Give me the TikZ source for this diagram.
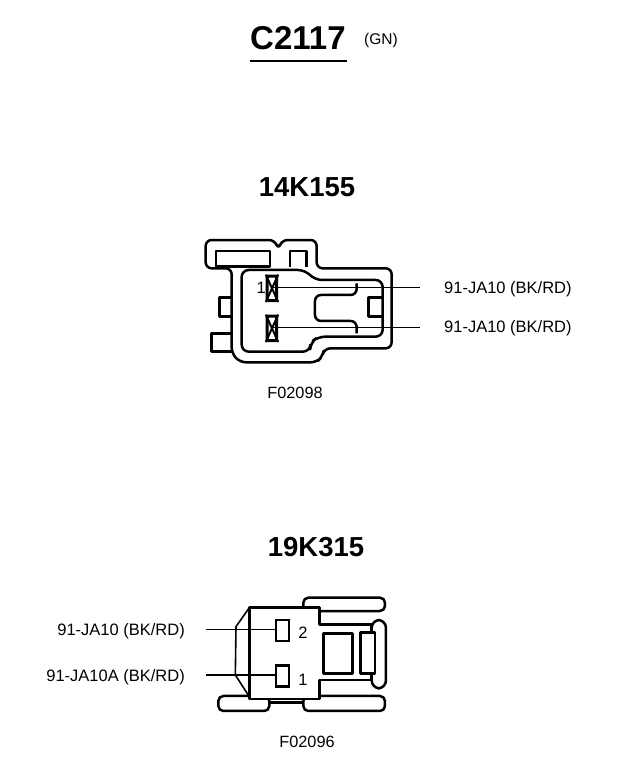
\documentclass[tikz,border=0pt]{standalone}
\usepackage{fontspec}
\setmainfont{Liberation Sans}
\tikzset{
 outl/.style={line width=2.5pt,line join=round},
 thinl/.style={line width=1.6pt,line join=round},
 wirea/.style={line width=1.5pt},
 wireb/.style={line width=.8pt},
 lab/.style={font=\fontsize{16.5}{18}\selectfont,inner sep=0pt},
 fig/.style={font=\fontsize{16.3}{18}\selectfont,inner sep=0pt},
 head/.style={font=\fontsize{27.5}{30}\selectfont\bfseries,inner sep=0pt},
 termA/.style={draw,line width=3pt,fill=white,rounded corners=1pt,minimum width=9.5pt,minimum height=24.5pt,inner sep=0pt},
 termB/.style={draw,line width=2.5pt,fill=white,minimum width=13pt,minimum height=21pt,inner sep=0pt},
 bar/.style={outl,rounded corners=5pt,fill=white},
}
\begin{document}
\begin{tikzpicture}[x=1pt,y=-1pt]
\useasboundingbox[fill=white] (0,0) rectangle (624,768);
% title
\node[font=\fontsize{33}{35}\selectfont\bfseries,inner sep=0pt,anchor=base west] (title) at (250,50) {C2117};
\node[font=\fontsize{15.5}{18}\selectfont,inner sep=0pt,anchor=base west] (color) at (364,45) {(GN)};
\coordinate (ruleL) at (250,61); \coordinate (ruleR) at (347,61);
\draw[line width=1.8pt] (ruleL) -- (ruleR);
\node[head,anchor=base] (h1) at (307,196) {14K155};
\node[head,anchor=base] (h2) at (316,556) {19K315};
% connector 14K155
\begin{scope}[shift={(190,225)},x=.3333pt,y=-.3333pt]
\draw[outl,rounded corners=6pt] (47,90) -- (47,130) -- (125,130) -- (125,385) -- (150,412) -- (380,412) -- (397,395) -- (403,370) -- (605,370) -- (605,130) -- (380,130) -- (380,45) -- (275,45) -- (265,75) -- (255,45) -- (47,45) -- cycle;
\draw[outl,rounded corners=7pt] (155,135) -- (345,135) -- (375,165) -- (578,165) -- (578,335) -- (385,335) -- (362,352) -- (360,380) -- (155,380) -- cycle;
\draw[outl] (78,78) rectangle (240,125);
\draw[outl] (300,125) -- (300,78) -- (350,78) -- (350,125);
\draw[outl] (125,218) -- (88,218) -- (88,275) -- (125,275);
\draw[outl] (125,325) -- (65,325) -- (65,380) -- (125,380);
\draw[outl] (578,218) -- (535,218) -- (535,275) -- (578,275);
\draw[outl,rounded corners=6pt] (500,175) -- (500,210) -- (375,210) -- (375,288) -- (500,288) -- (500,325);
\node[termA] (t1) at (246,190) {};
\node[termA] (t2) at (246,310) {};
\draw[line width=2pt] (t1.north west) -- (t1.south east) (t1.north east) -- (t1.south west);
\draw[line width=2pt] (t2.north west) -- (t2.south east) (t2.north east) -- (t2.south west);
\coordinate (e1) at (690,187); \coordinate (e2) at (690,308);
\draw[wirea] (t1.center|-e1) -- (e1);
\draw[wireb] (t2.center|-e2) -- (e2);
\end{scope}
\node[lab,anchor=base east] (n1) at (266,293) {1};
\node[lab,anchor=base west] (l1) at (444,293) {91-JA10 (BK/RD)};
\node[lab,anchor=base west] (l2) at (444,332) {91-JA10 (BK/RD)};
\node[fig,anchor=base] (f1) at (295,398) {F02098};
% connector 19K315
\begin{scope}[shift={(190,585)},x=.3333pt,y=-.3333pt]
\draw[bar] (340,38) rectangle (585,78);
\draw[bar] (85,333) rectangle (238,378);
\draw[bar] (340,333) rectangle (585,378);
\draw[outl] (238,352) -- (340,352);
\draw[outl,fill=white] (178,342) -- (178,68) -- (388,68) -- (388,118) -- (545,118) -- (545,285) -- (388,285) -- (388,342) -- cycle;
\draw[thinl] (178,68) -- (138,125) -- (136,270) -- (178,335);
\draw[outl,fill=white,rounded corners=8pt] (545,105) rectangle (588,310);
\draw[outl,fill=white] (512,143) rectangle (555,265);
\draw[outl] (400,145) rectangle (487,265);
\node[termB] (t3) at (277,136) {};
\node[termB] (t4) at (277,273) {};
\coordinate (e3) at (48,133); \coordinate (e4) at (48,270);
\draw[wireb] (e3) -- (t3.west|-e3);
\draw[wirea] (e4) -- (t4.west|-e4);
\end{scope}
\node[lab,anchor=base] (n2) at (303,638) {2};
\node[lab,anchor=base] (n3) at (303,685) {1};
\node[lab,anchor=base east] (l3) at (185,635) {91-JA10 (BK/RD)};
\node[lab,anchor=base east] (l4) at (185,681) {91-JA10A (BK/RD)};
\node[fig,anchor=base] (f2) at (307,747) {F02096};
\end{tikzpicture}
\end{document}
